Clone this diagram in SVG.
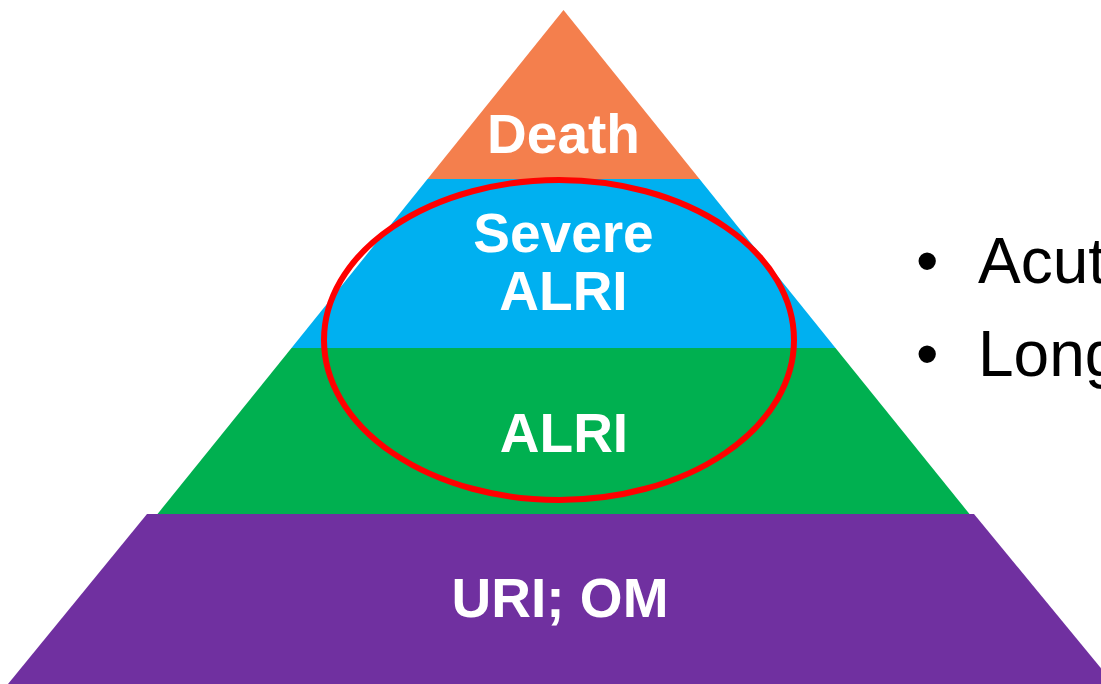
<svg xmlns="http://www.w3.org/2000/svg" width="1101" height="684" viewBox="0 0 1101 684">
<style>
.lbl{font-family:"Liberation Sans",Arial,sans-serif;font-weight:bold;font-size:55px;fill:#FFFFFF;text-anchor:middle}
.bul{font-family:"Liberation Sans",Arial,sans-serif;font-size:64px;fill:#000000}
</style>
<rect width="1101" height="684" fill="#FFFFFF"/>
<g id="layer-death">
<polygon points="563.5,10 699.5,179 427.5,179" fill="#F47F4D"/>
<text class="lbl" x="563.5" y="153">Death</text>
</g>
<g id="layer-severe">
<polygon points="427.5,179 699.5,179 835.5,348 291.5,348" fill="#00B0F0"/>
<text class="lbl" x="563.5" y="252">Severe</text>
<text class="lbl" x="563.5" y="310">ALRI</text>
</g>
<g id="layer-alri">
<polygon points="291.5,348 835.5,348 969.5,514 157.5,514" fill="#00B050"/>
<text class="lbl" x="564" y="452">ALRI</text>
</g>
<g id="layer-uri">
<polygon points="147,514 974,514 1114,684 8,684" fill="#7030A0"/>
<text class="lbl" x="560" y="617">URI; OM</text>
</g>
<g id="connectors">
<ellipse cx="559" cy="340" rx="235" ry="160" fill="none" stroke="#FF0000" stroke-width="6"/>
</g>
<g id="bullets">
<text class="bul" x="916" y="283">•</text>
<text class="bul" x="978" y="283">Acut</text>
<text class="bul" x="916" y="376">•</text>
<text class="bul" x="978" y="376">Long</text>
</g>
</svg>
